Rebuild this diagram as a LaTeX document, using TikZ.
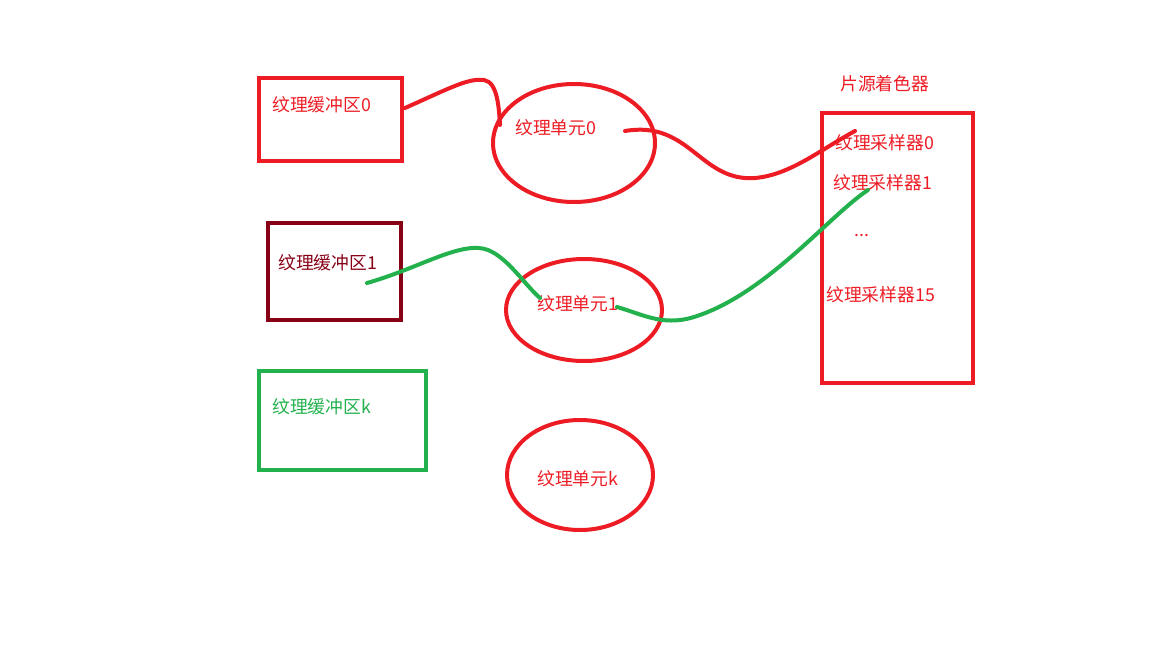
\documentclass[tikz,border=0pt]{standalone}
\usepackage{fontspec}
\newfontfamily\cjk{Noto Sans CJK SC}
\usetikzlibrary{shapes.geometric}
\definecolor{pred}{HTML}{ED1C24}
\definecolor{pdark}{HTML}{880015}
\definecolor{pgreen}{HTML}{22B14C}
\tikzset{
  lbl/.style={anchor=west,inner sep=0pt,font=\cjk\fontsize{17.8pt}{20pt}\selectfont},
  boxshape/.style={draw,line width=4.5pt,inner sep=0pt},
  unit/.style={draw=pred,ellipse,line width=4pt,inner sep=0pt},
  wire/.style={line width=4pt,line cap=round}
}
\begin{document}
\begin{tikzpicture}[x=1pt,y=-1pt]
\useasboundingbox (0,0) rectangle (1152,648);
% buffers
\node[boxshape,draw=pred,minimum width=143pt,minimum height=83pt] (b0) at (330.5,119.5) {};
\node[boxshape,draw=pdark,minimum width=133pt,minimum height=97pt] (b1) at (334.5,271.5) {};
\node[boxshape,draw=pgreen,minimum width=167pt,minimum height=99pt] (bk) at (342.5,420.5) {};
\node[lbl,text=pred] (tb0) at (272,105) {纹理缓冲区0};
\node[lbl,text=pdark] (tb1) at (278,263) {纹理缓冲区1};
\node[lbl,text=pgreen] (tbk) at (272,407) {纹理缓冲区k};
% units
\node[unit,minimum width=162pt,minimum height=118pt] (u0) at (574,143) {};
\node[unit,minimum width=156pt,minimum height=102pt] (u1) at (584,310) {};
\node[unit,minimum width=146pt,minimum height=110pt] (uk) at (580,475) {};
\node[lbl,text=pred] (tu0) at (515,128) {纹理单元0};
\node[lbl,text=pred] (tu1) at (537,304) {纹理单元1};
\node[lbl,text=pred] (tuk) at (537,479) {纹理单元k};
% shader
\node[lbl,text=pred] (title) at (840,84) {片源着色器};
\node[boxshape,draw=pred,minimum width=151pt,minimum height=270pt] (fs) at (897.5,248) {};
\node[lbl,text=pred] (s0) at (835,143) {纹理采样器0};
\node[lbl,text=pred] (s1) at (833,183) {纹理采样器1};
\node[lbl,text=pred] (sd) at (854,235) {...};
\node[lbl,text=pred] (s15) at (826,295) {纹理采样器15};
% wire ends
\coordinate (r1a) at (405,108);
\coordinate (r1b) at (500,125);
\coordinate (r2a) at (625,131);
\coordinate (r2b) at (855,131);
\coordinate (g1a) at (367,283);
\coordinate (g1b) at (540,298);
\coordinate (g2a) at (617,307);
\coordinate (g2b) at (868,190);
\draw[wire,pred] (r1a) .. controls (450,88) and (468,78) .. (484,80) .. controls (498,82) and (499,110) .. (r1b);
\draw[wire,pred] (r2a) .. controls (690,120) and (700,182) .. (755,178) .. controls (790,175) and (820,150) .. (r2b);
\draw[wire,pgreen] (g1a) .. controls (420,268) and (462,240) .. (488,250) .. controls (508,258) and (525,285) .. (g1b);
\draw[wire,pgreen] (g2a) .. controls (645,315) and (665,328) .. (700,315) .. controls (770,290) and (830,215) .. (g2b);
\end{tikzpicture}
\end{document}
